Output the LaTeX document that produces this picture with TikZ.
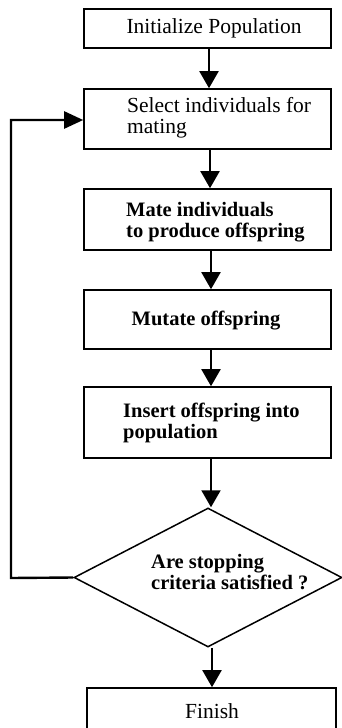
\documentclass[tikz,border=0pt]{standalone}
\usepackage{fontspec}
\setmainfont{Liberation Serif}
\usetikzlibrary{shapes.geometric,arrows.meta}

\begin{document}
\begin{tikzpicture}[x=1pt,y=-1pt,
  stepbox/.style={draw, line width=1.6pt, rectangle, inner sep=0pt, minimum width=247pt},
  decide/.style={draw, line width=1.5pt, diamond, inner sep=0pt},
  txt/.style={inner sep=0pt, align=left, font=\fontsize{21.5}{21}\selectfont},
  btxt/.style={txt, font=\fontsize{20.5}{21}\selectfont\bfseries},
  flow/.style={line width=2pt, -{Triangle[width=19pt,length=17pt]}},
  loopline/.style={line width=2.4pt, -{Triangle[width=17pt,length=19pt]}}]
  \useasboundingbox (0,0) rectangle (342,728);

  % process boxes
  \node[stepbox, minimum height=39pt] (b1) at (207.5,28.5) {};
  \node[stepbox, minimum height=60pt] (b2) at (207.5,119) {};
  \node[stepbox, minimum height=61pt] (b3) at (207.5,219.5) {};
  \node[stepbox, minimum height=59pt] (b4) at (207.5,319.5) {};
  \node[stepbox, minimum height=71pt] (b5) at (207.5,422.5) {};
  \node[decide, minimum width=268pt, minimum height=139pt] (d) at (208,577.5) {};
  \node[stepbox, minimum width=249pt, minimum height=41pt] (b6) at (211.5,708.5) {};

  % labels
  \node[txt] (t1) at (214,28.5) {Initialize Population};
  \node[txt, anchor=west] (t2) at (127,117.5) {Select individuals for\\mating};
  \node[btxt, anchor=west] (t3) at (126,222) {Mate individuals\\ to produce offspring};
  \node[btxt] (t4) at (206,321) {Mutate offspring};
  \node[btxt, anchor=west] (t5) at (123,423) {Insert offspring into\\population};
  \node[btxt, anchor=west] (t6) at (151,572.5) {Are stopping\\criteria satisfied ?};
  \node[txt] (t7) at (212,711) {Finish};

  % main flow
  \draw[flow] (b1.south -| 209,0) -- (b2.north -| 209,0);
  \draw[flow] (b2.south -| 210,0) -- (b3.north -| 210,0);
  \draw[flow] (b3.south -| 211,0) -- (b4.north -| 211,0);
  \draw[flow] (b4.south -| 211,0) -- (b5.north -| 211,0);
  \draw[flow] (b5.south -| 211,0) -- (d.north -| 211,0);
  \draw[flow] (d.south -| 212,0) -- (b6.north -| 212,0);

  % repeat loop back to selection
  \coordinate (lb) at (11,578);
  \coordinate (lt) at (11,120);
  \draw[loopline] (d.west) -- (lb) -- (lt) -- (b2.west |- lt);
\end{tikzpicture}
\end{document}
